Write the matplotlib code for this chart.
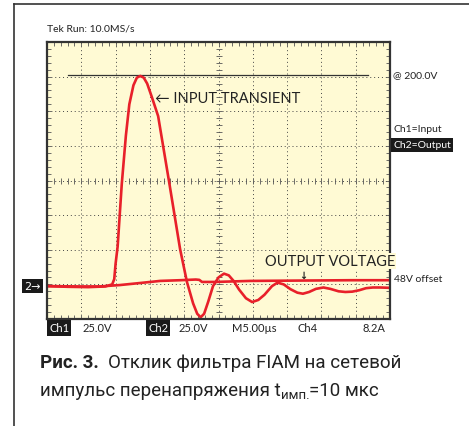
import matplotlib.pyplot as plt
import numpy as np

W, H = 469, 427
plt.rcParams['font.family'] = ['Lato', 'DejaVu Sans']

# время, мкс (5 мкс/дел) и отклонение в делениях экрана
t_in = [0.0, 3.0, 6.0, 8.5, 9.5, 9.8, 10.0, 10.3, 10.9, 11.5, 12.0, 12.6, 13.1, 13.6,
        14.1, 14.6, 15.3, 16.2, 17.8, 19.4, 20.4, 21.3, 21.9, 22.4, 22.9, 23.5, 24.2,
        25.0, 25.8, 26.5, 27.2, 28.0, 29.0, 29.9, 30.8, 31.7, 32.8, 33.6, 34.5, 35.5,
        36.5, 37.3, 38.2, 39.2, 40.3, 41.3, 42.5, 43.5, 44.5, 45.5, 46.5, 47.5, 48.5, 50.0]
v_in = [-3.05, -3.07, -3.08, -3.06, -3.0, -2.85, -2.4, -1.9, -0.1, 1.3, 2.2, 2.75, 2.97, 3.02,
        2.97, 2.8, 2.4, 1.86, -0.04, -1.98, -2.93, -3.55, -3.85, -3.95, -3.85, -3.5, -3.05,
        -2.8, -2.69, -2.74, -2.9, -3.15, -3.4, -3.51, -3.45, -3.3, -3.05, -2.95, -3.0, -3.14,
        -3.24, -3.27, -3.22, -3.13, -3.09, -3.13, -3.2, -3.22, -3.21, -3.17, -3.11, -3.09, -3.09, -3.1]

t_out = [0.0, 4.8, 7.7, 10.6, 13.6, 16.5, 19.4, 21.7, 22.2, 22.6, 24.5, 29.6, 36.9, 44.2, 50.0]
v_out = [-3.05, -3.06, -3.06, -3.02, -2.96, -2.9, -2.88, -2.86, -2.87, -2.93, -2.93, -2.9, -2.89, -2.88, -2.88]

trig_t = [3.06, 46.8]
trig_v = 3.05

bottom_labels = [(83, '25.0V'), (179, '25.0V'), (232, 'M5.00µs'), (297, 'Ch4'), (362, '8.2A')]

fig = plt.figure(figsize=(W / 100, H / 100), dpi=100)
ax = fig.add_axes([47 / W, 1 - 320 / H, 343 / W, 277 / H])
ax.set_facecolor('#fffad4')
ax.set_xlim(0, 50)
ax.set_ylim(-4, 4)
for s in ax.spines.values():
    s.set_color('#333333')
    s.set_linewidth(1.6)

# сетка осциллографа
for x in range(5, 50, 5):
    ax.axvline(x, color='#444444', lw=0.7, ls=(0, (1, 3)))
for y in range(-3, 4):
    ax.axhline(y, color='#444444', lw=0.7, ls=(0, (1, 3)))
ax.plot([25] * 39, np.arange(-3.8, 3.81, 0.2), ls='none', marker='_', ms=4, mew=0.6, color='#555555')
ax.plot(np.arange(1, 50, 1), [0] * 49, ls='none', marker='|', ms=4, mew=0.6, color='#555555')
ax.set_xticks(np.arange(0, 51, 5))
ax.set_xticks(np.arange(0, 51, 1), minor=True)
ax.set_yticks(np.arange(-4, 5, 1))
ax.set_yticks(np.arange(-4, 4.01, 0.2), minor=True)
ax.tick_params(which='both', direction='in', length=3, width=0.6, color='#555555',
               labelbottom=False, labelleft=False, top=True, right=True)

ax.plot(trig_t, [trig_v, trig_v], color='#333333', lw=0.9)
ax.plot(t_in, v_in, color='#e8202a', lw=1.9, solid_joinstyle='round')
ax.plot(t_out, v_out, color='#e8202a', lw=1.9, solid_joinstyle='round')


def ftxt(x, y, s, **kw):
    kw.setdefault('va', 'center')
    kw.setdefault('color', '#222222')
    return fig.text(x / W, 1 - y / H, s, **kw)


# внешняя рамка
fig.add_artist(plt.Line2D([14 / W, 14 / W], [0, 1 - 5 / H], color='#333333', lw=1.2))
fig.add_artist(plt.Line2D([14 / W, 1], [1 - 5 / H, 1 - 5 / H], color='#333333', lw=1.2))

ftxt(47, 29, 'Tek Run: 10.0MS/s', fontsize=7.5)
ftxt(155, 99, '← INPUT TRANSIENT', fontsize=10.5)
ftxt(265, 262, 'OUTPUT VOLTAGE', fontsize=10.5,
     bbox=dict(facecolor='#fffad4', edgecolor='none', pad=0.5))
ftxt(303, 276, '↓', fontsize=7, ha='center', family='DejaVu Sans', weight='bold')
ftxt(393, 76, '@ 200.0V', fontsize=7.5)
ftxt(393, 130, 'Ch1=Input', fontsize=7.5)
ftxt(393, 146, 'Ch2=Output', fontsize=7.5, color='white',
     bbox=dict(facecolor='#1a1a1a', edgecolor='none', pad=1.5))
ftxt(394, 280, '48V offset', fontsize=7.5)
ftxt(24, 287, '2→', fontsize=8, color='white', family='DejaVu Sans',
     bbox=dict(facecolor='#1a1a1a', edgecolor='none', pad=1.5))
ftxt(49, 329, 'Ch1', fontsize=8, color='white',
     bbox=dict(facecolor='#1a1a1a', edgecolor='none', pad=1.5))
ftxt(148, 329, 'Ch2', fontsize=8, color='white',
     bbox=dict(facecolor='#1a1a1a', edgecolor='none', pad=1.5))
for x, s in bottom_labels:
    ftxt(x, 329, s, fontsize=8)

# подпись, собирается по кускам
rend = fig.canvas.get_renderer()


def chain(x, y, parts):
    for s, size, weight, dy in parts:
        t = ftxt(x, y + dy, s, fontsize=size, family='Roboto', weight=weight, va='baseline')
        x = t.get_window_extent(rend).x1


chain(40, 368, [('Рис. 3.  ', 13.5, 'bold', 0), ('Отклик фильтра FIAM на сетевой', 13.5, 'normal', 0)])
chain(40, 396, [('импульс перенапряжения t', 13.5, 'normal', 0), ('имп.', 9.5, 'normal', 3),
                ('=10 мкс', 13.5, 'normal', 0)])

fig.savefig('out.png', dpi=100, facecolor='white')
